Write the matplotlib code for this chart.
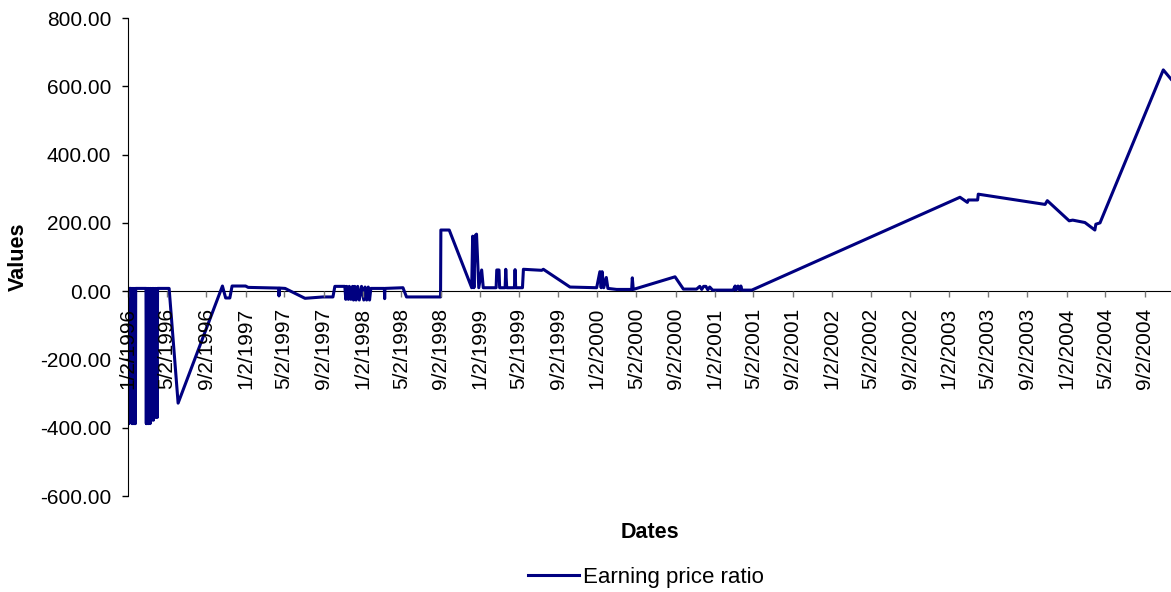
import matplotlib
matplotlib.use("Agg")
import matplotlib.pyplot as plt
import pandas as pd

plt.rcParams['font.family'] = ['Liberation Sans', 'DejaVu Sans']

# earning price ratio
dates = [
    "1996-01-02", "1996-01-03", "1996-01-04", "1996-01-05", "1996-01-08", "1996-01-12",
    "1996-01-15", "1996-01-16", "1996-01-18", "1996-01-19", "1996-01-22", "1996-01-23",
    "1996-01-25", "1996-01-26", "1996-02-27", "1996-02-28", "1996-02-29", "1996-03-01",
    "1996-03-04", "1996-03-06", "1996-03-07", "1996-03-11", "1996-03-12", "1996-03-15",
    "1996-03-18", "1996-03-21", "1996-03-22", "1996-03-27", "1996-03-28", "1996-04-02",
    "1996-04-03", "1996-05-09", "1996-06-06", "1996-10-22", "1996-11-01", "1996-11-14",
    "1996-11-21", "1997-01-02", "1997-01-10", "1997-04-15", "1997-04-16", "1997-04-18",
    "1997-05-05", "1997-07-06", "1997-08-31", "1997-10-01", "1997-10-07", "1997-11-07",
    "1997-11-10", "1997-11-13", "1997-11-18", "1997-11-21", "1997-11-26", "1997-12-01",
    "1997-12-04", "1997-12-08", "1997-12-12", "1997-12-17", "1997-12-22", "1997-12-29",
    "1998-01-05", "1998-01-09", "1998-01-14", "1998-01-19", "1998-01-23", "1998-01-27",
    "1998-03-10", "1998-03-11", "1998-03-12", "1998-05-07", "1998-05-18", "1998-09-01",
    "1998-09-02", "1998-09-28", "1998-12-07", "1998-12-10", "1998-12-14", "1998-12-18",
    "1998-12-22", "1998-12-29", "1999-01-07", "1999-01-12", "1999-02-21", "1999-02-23",
    "1999-03-02", "1999-03-04", "1999-03-21", "1999-03-23", "1999-03-26", "1999-04-19",
    "1999-04-21", "1999-04-23", "1999-05-14", "1999-05-17", "1999-07-13", "1999-07-18",
    "1999-10-09", "1999-12-31", "2000-01-10", "2000-01-14", "2000-01-17", "2000-01-22",
    "2000-01-30", "2000-02-04", "2000-03-02", "2000-04-18", "2000-04-20", "2000-04-23",
    "2000-08-31", "2000-09-26", "2000-11-06", "2000-11-16", "2000-11-22", "2000-11-28",
    "2000-12-05", "2000-12-11", "2000-12-17", "2000-12-26", "2001-02-28", "2001-03-06",
    "2001-03-09", "2001-03-15", "2001-03-20", "2001-03-24", "2001-03-27", "2001-04-27",
    "2003-02-04", "2003-02-27", "2003-03-02", "2003-03-31", "2003-04-02", "2003-10-27",
    "2003-11-03", "2004-01-10", "2004-01-21", "2004-02-28", "2004-03-30", "2004-04-02",
    "2004-04-15", "2004-10-29", "2004-11-22",
]
values = [
    8, -388, 8, -388, 8, 8,
    -388, 8, -388, 8, -388, 8,
    -388, 8, 8, -388, 8, -388,
    8, -388, 8, -388, 8, -378,
    8, -378, 8, -370, 8, -370,
    8, 8, -328, 15, -20, -20,
    15, 15, 11, 9, -14, 9,
    8, -21, -17, -17, 14, 14,
    -24, 14, -24, 14, -24, 14,
    -26, 14, -26, 14, -26, 14,
    -26, 12, -26, 12, -26, 8,
    8, -22, 8, 10, -17, -17,
    179, 179, 10, 161, 10, 163,
    167, 10, 62, 10, 10, 62,
    62, 10, 10, 64, 10, 10,
    63, 10, 10, 64, 61, 64,
    12, 10, 57, 10, 57, 10,
    40, 8, 5, 5, 39, 5,
    42, 6, 6, 14, 5, 14,
    14, 4, 12, 3, 3, 15,
    3, 15, 3, 15, 3, 3,
    275, 260, 267, 267, 284, 254,
    265, 206, 208, 201, 179, 196,
    200, 648, 621,
]

tick_dates = [f"{y}-{m:02d}-02" for y in range(1996, 2005) for m in (1, 5, 9)]
tick_labels = [f"{m}/2/{y}" for y in range(1996, 2005) for m in (1, 5, 9)]

x = pd.to_datetime(dates)

fig = plt.figure(figsize=(11.71, 5.92), dpi=100)
ax = fig.add_axes([128 / 1171, 1 - 496 / 592, 1 - 128 / 1171, (496 - 18) / 592])

ax.plot(x, values, color='#000080', lw=2.2, label='Earning price ratio', zorder=1)

# spine position first, it resets the ticks
ax.spines['top'].set_visible(False)
ax.spines['right'].set_visible(False)
ax.spines['bottom'].set_position(('data', 0))
ax.spines['bottom'].set_zorder(0)

ax.set_ylim(-600, 800)
ax.set_yticks(range(-600, 801, 200))
ax.set_yticklabels([f"{v:.2f}" for v in range(-600, 801, 200)])
ax.set_xlim(pd.Timestamp("1996-01-02"), pd.Timestamp("2004-11-22"))
ax.set_xticks(pd.to_datetime(tick_dates))
ax.set_xticklabels(tick_labels)

ax.tick_params(axis='y', direction='out', length=4.5, width=1, pad=7.5, labelsize=15)
ax.tick_params(axis='x', direction='out', length=4.5, width=1, pad=7.5, labelsize=15,
               color='#777777', labelrotation=90)

ax.set_ylabel('Values', fontsize=15.5, fontweight='bold', va='center')
ax.yaxis.set_label_coords((18 - 128) / (1171 - 128), 0.5)
fig.text(650 / 1171, 1 - 532 / 592, 'Dates', fontsize=15.5, fontweight='bold',
         ha='center', va='center')

fig.legend(loc='center', bbox_to_anchor=(646 / 1171, 1 - 577 / 592), frameon=False,
           fontsize=16, handlelength=2.3, handletextpad=0.2)

fig.savefig('out.png', dpi=100)
